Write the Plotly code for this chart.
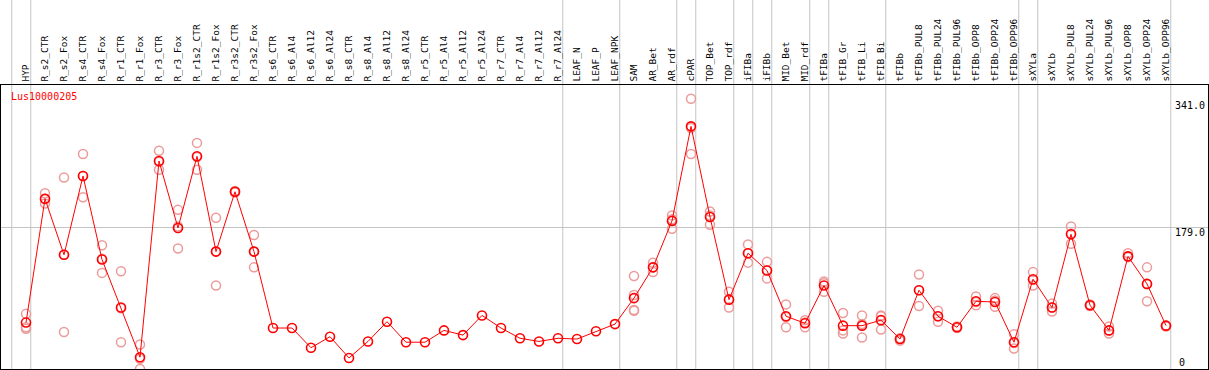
import plotly.graph_objects as go

categories = ["HYP", "R_s2_CTR", "R_s2_Fox", "R_s4_CTR", "R_s4_Fox", "R_r1_CTR", "R_r1_Fox",
              "R_r3_CTR", "R_r3_Fox", "R_r1s2_CTR", "R_r1s2_Fox", "R_r3s2_CTR", "R_r3s2_Fox",
              "R_s6_CTR", "R_s6_Al4", "R_s6_Al12", "R_s6_Al24", "R_s8_CTR", "R_s8_Al4", "R_s8_Al12",
              "R_s8_Al24", "R_r5_CTR", "R_r5_Al4", "R_r5_Al12", "R_r5_Al24", "R_r7_CTR", "R_r7_Al4",
              "R_r7_Al12", "R_r7_Al24", "LEAF_N", "LEAF_P", "LEAF_NPK", "SAM", "AR_Bet", "AR_rdf",
              "cPAR", "TOP_Bet", "TOP_rdf", "iFIBa", "iFIBb", "MID_Bet", "MID_rdf", "tFIBa",
              "tFIB_Gr", "tFIB_Li", "tFIB_Bi", "tFIBb", "tFIBb_PUL8", "tFIBb_PUL24", "tFIBb_PUL96",
              "tFIBb_OPP8", "tFIBb_OPP24", "tFIBb_OPP96", "sXYLa", "sXYLb", "sXYLb_PUL8",
              "sXYLb_PUL24", "sXYLb_PUL96", "sXYLb_OPP8", "sXYLb_OPP24", "sXYLb_OPP96"]

means = [59, 216, 145, 245, 139, 78, 15, 264, 179, 270, 149, 225, 149,
         52, 52, 27, 41, 14, 35, 60, 34, 34, 49, 43, 68, 52, 39, 35, 39, 38, 48, 57,
         90, 129, 188, 308, 193, 88, 147, 125, 67, 58, 106, 55, 55, 62, 38,
         100, 67, 53, 86, 85, 34, 114, 78, 171, 81, 49, 143, 108, 55]

replicates = [[70, 53, 51], [223, 216, 210], [243, 145, 47], [273, 245, 218], [157, 140, 122],
              [124, 77, 34], [31, 13, 0], [277, 263, 253], [202, 181, 153], [287, 269, 253],
              [192, 149, 106], [226, 225, 224], [170, 149, 129],
              [], [], [], [], [], [], [], [], [], [], [], [], [], [], [], [], [], [], [],
              [118, 94, 75, 74], [135, 129, 123], [195, 190, 178], [343, 306, 273],
              [200, 195, 183], [98, 89, 78], [158, 147, 135], [136, 125, 115], [82, 66, 53],
              [62, 59, 53], [111, 109, 98], [71, 49, 45], [68, 57, 40], [68, 67, 50],
              [39, 38, 36], [120, 100, 80], [74, 67, 60], [54, 53, 52], [92, 85, 81],
              [90, 87, 79], [44, 33, 26], [123, 113, 106], [83, 78, 73], [181, 172, 159],
              [82, 81, 80], [54, 49, 45], [147, 143, 142], [129, 108, 86], [55, 55, 54]]

# separators are drawn after these category positions (-1 = before the first)
group_breaks = [-1, 0, 28, 31, 34, 35, 37, 38, 39, 41, 42, 45, 52, 53, 60]

y_ticks = [179, 341]
y_ticktext = ["179.0", "341.0"]
y_zero = 0
gene = "Lus10000205"

W, H = 1209, 370
ML, MR, MT, MB = 1, 1, 85, 1
plot_w = W - ML - MR
plot_h = H - MT - MB
step = 19.0
first_px = 26 - ML
x_lo = -first_px / step
x_hi = x_lo + plot_w / step
y_max = 360.5

xi = list(range(len(categories)))
rx, ry = [], []
for i, reps in enumerate(replicates):
    for v in reps:
        rx.append(i)
        ry.append(v)

FONT = "DejaVu Sans Mono"

fig = go.Figure()
fig.add_trace(go.Scatter(x=rx, y=ry, mode="markers",
                         marker=dict(symbol="circle-open", size=9, color="#ec9a9a",
                                     line=dict(width=1.5, color="#ec9a9a")),
                         hoverinfo="skip", showlegend=False))
fig.add_trace(go.Scatter(x=xi, y=means, mode="lines+markers",
                         line=dict(color="#ff0000", width=1),
                         marker=dict(symbol="circle-open", size=9, color="#ff0000",
                                     line=dict(width=1.6, color="#ff0000")),
                         showlegend=False))
# invisible helper so the label axis is rendered
fig.add_trace(go.Scatter(x=xi, y=means, yaxis="y2", mode="lines", opacity=0,
                         hoverinfo="skip", showlegend=False))

shapes = []
for b in group_breaks:
    shapes.append(dict(type="line", xref="x", yref="paper", x0=b + 0.25, x1=b + 0.25,
                       y0=0, y1=1 + MT / plot_h, line=dict(color="#c4c4c4", width=1),
                       layer="below"))

label_pos = (1174 - ML) / plot_w

fig.update_layout(
    template="none",
    width=W, height=H,
    margin=dict(l=ML, r=MR, t=MT, b=MB, pad=0, autoexpand=False),
    paper_bgcolor="white", plot_bgcolor="white",
    font=dict(family=FONT, size=10, color="black"),
    shapes=shapes,
    xaxis=dict(range=[x_lo, x_hi], tickvals=xi, ticktext=categories, side="top",
               tickangle=-90, tickfont=dict(family=FONT, size=9.5, color="black"),
               ticks="", showgrid=False, zeroline=False, showline=True, linecolor="black",
               linewidth=1.5, mirror=True, fixedrange=True, automargin=False),
    yaxis=dict(range=[0, y_max], tickvals=[y_ticks[0]], showticklabels=False, ticks="",
               showgrid=True, gridcolor="#c4c4c4", gridwidth=1, zeroline=False,
               showline=True, linecolor="black", linewidth=1.5, mirror=True,
               automargin=False, fixedrange=True),
    yaxis2=dict(range=[0, y_max], overlaying="y", anchor="free", position=label_pos,
                side="right", tickvals=y_ticks, ticktext=y_ticktext, ticks="",
                ticklabelshift=5, showgrid=False, zeroline=False, showline=False,
                automargin=False, fixedrange=True,
                tickfont=dict(family=FONT, size=10, color="black")),
    annotations=[
        dict(text=gene, xref="paper", yref="paper", x=(9 - ML) / plot_w,
             y=1 - (97 - MT) / plot_h, xanchor="left", yanchor="middle",
             showarrow=False, font=dict(family=FONT, size=10, color="#ff0000")),
        dict(text=str(y_zero), xref="paper", yref="y", x=(1177 - ML) / plot_w, y=y_zero,
             yshift=7, xanchor="left", yanchor="middle", showarrow=False,
             font=dict(family=FONT, size=10, color="black")),
    ],
)

fig.write_html("out.html", config={"displayModeBar": False, "staticPlot": True},
               post_script="document.body.style.margin='0';document.body.style.overflow='hidden';")
